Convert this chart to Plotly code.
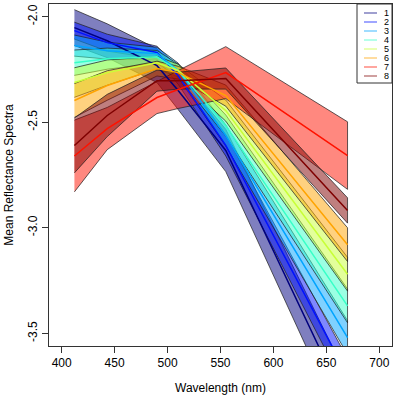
import plotly.graph_objects as go

wavelengths = [412, 443, 490, 510, 555, 670]
class_labels = ["1", "2", "3", "4", "5", "6", "7", "8"]

mean_c1 = [-2.052, -2.114, -2.232, -2.350, -2.634, -3.850]
sd_c1 = [0.085, 0.080, 0.080, 0.090, 0.100, 0.140]
mean_c2 = [-2.066, -2.123, -2.170, -2.280, -2.610, -3.700]
sd_c2 = [0.040, 0.040, 0.030, 0.040, 0.050, 0.080]
mean_c3 = [-2.137, -2.161, -2.175, -2.255, -2.563, -3.520]
sd_c3 = [0.050, 0.040, 0.030, 0.035, 0.050, 0.080]
mean_c4 = [-2.218, -2.199, -2.190, -2.255, -2.516, -3.370]
sd_c4 = [0.060, 0.050, 0.030, 0.030, 0.050, 0.080]
mean_c5 = [-2.312, -2.265, -2.218, -2.255, -2.445, -3.220]
sd_c5 = [0.070, 0.060, 0.030, 0.030, 0.050, 0.080]
mean_c6 = [-2.397, -2.326, -2.246, -2.265, -2.374, -3.080]
sd_c6 = [0.080, 0.070, 0.035, 0.030, 0.050, 0.080]
mean_c7 = [-2.660, -2.530, -2.383, -2.345, -2.265, -2.658]
sd_c7 = [0.170, 0.100, 0.076, 0.090, 0.123, 0.160]
mean_c8 = [-2.610, -2.468, -2.303, -2.303, -2.293, -2.918]
sd_c8 = [0.130, 0.100, 0.050, 0.040, 0.050, 0.060]

means = [mean_c1, mean_c2, mean_c3, mean_c4, mean_c5, mean_c6, mean_c7, mean_c8]
sds = [sd_c1, sd_c2, sd_c3, sd_c4, sd_c5, sd_c6, sd_c7, sd_c8]

rgb = [(0, 0, 127), (0, 18, 255), (0, 164, 255), (55, 255, 200),
       (200, 255, 55), (255, 164, 0), (255, 18, 0), (127, 0, 0)]

fig = go.Figure()

# bands
for m, s, c in zip(means, sds, rgb):
    upper = [a + b for a, b in zip(m, s)]
    lower = [a - b for a, b in zip(m, s)]
    fig.add_trace(go.Scatter(
        x=wavelengths + wavelengths[::-1],
        y=upper + lower[::-1],
        fill="toself",
        fillcolor="rgba(%d,%d,%d,0.5)" % c,
        line=dict(color="rgba(30,30,30,0.9)", width=0.8),
        mode="lines", showlegend=False, hoverinfo="skip"))

# mean lines
for m, c in zip(means, rgb):
    fig.add_trace(go.Scatter(
        x=wavelengths, y=m, mode="lines",
        line=dict(color="rgb(%d,%d,%d)" % c, width=1.5),
        showlegend=False, hoverinfo="skip"))

# legend (drawn manually to match compact R legend)
PL, PR, PT, PB = 49, 392, 4, 346
def px_x(p):
    return (p - PL) / (PR - PL)
def px_y(p):
    return (PB - p) / (PB - PT)

shapes = [dict(type="rect", xref="paper", yref="paper",
               x0=px_x(357), x1=1.0, y0=px_y(83), y1=1.0,
               line=dict(color="#333333", width=1), fillcolor="white", layer="above")]
annotations = []
for i, (lab, c) in enumerate(zip(class_labels, rgb)):
    ypix = 13 + i * 9
    yp = px_y(ypix)
    soft = tuple((v + 255) // 2 for v in c)
    shapes.append(dict(type="line", xref="paper", yref="paper",
                       x0=px_x(364), x1=px_x(377), y0=yp, y1=yp,
                       line=dict(color="rgb(%d,%d,%d)" % soft, width=1.5), layer="above"))
    annotations.append(dict(xref="paper", yref="paper", x=px_x(382), y=yp,
                            text=lab, showarrow=False, xanchor="left", yanchor="middle",
                            font=dict(family="Liberation Sans, Arial", size=9, color="black")))

fig.update_layout(
    width=397, height=395,
    margin=dict(l=PL, r=397 - PR, t=PT, b=395 - PB, autoexpand=False),
    plot_bgcolor="white", paper_bgcolor="white",
    shapes=shapes, annotations=annotations,
    font=dict(family="Liberation Sans, Arial", size=12, color="black"),
    xaxis=dict(range=[388, 712], tickvals=[400, 450, 500, 550, 600, 650, 700],
               showgrid=False, zeroline=False, showline=True, mirror=True,
               linecolor="#333333", linewidth=1, ticks="outside", ticklen=6,
               tickcolor="#333333", tickfont=dict(size=12), automargin=False,
               title=dict(text="Wavelength (nm)", font=dict(size=12), standoff=14)),
    yaxis=dict(range=[-3.56, -1.94], tickvals=[-3.5, -3.0, -2.5, -2.0],
               ticktext=["-3.5", "-3.0", "-2.5", "-2.0"], tickangle=-90,
               showgrid=False, zeroline=False, showline=True, mirror=True,
               linecolor="#333333", linewidth=1, ticks="outside", ticklen=6,
               tickcolor="#333333", tickfont=dict(size=12), automargin=False,
               title=dict(text="Mean Reflectance Spectra", font=dict(size=12), standoff=10)),
)

fig.write_html("out.html", config={"displayModeBar": False},
               post_script="document.body.style.margin='0';document.body.style.padding='0';")
